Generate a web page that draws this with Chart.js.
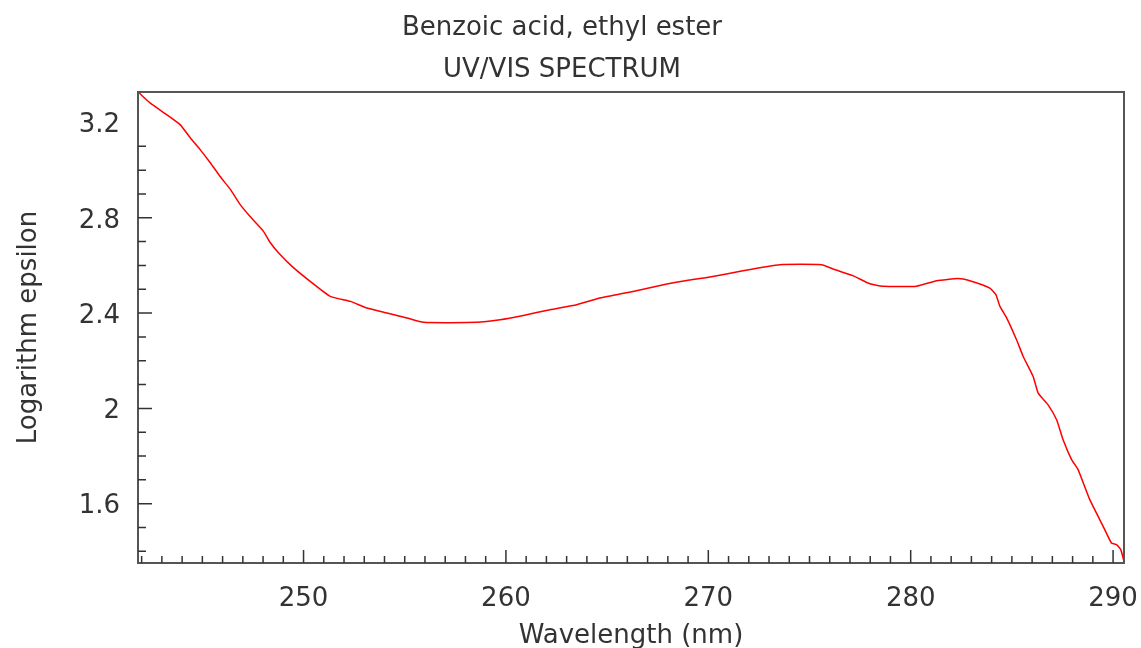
<!DOCTYPE html>
<html>
<head>
<meta charset="utf-8">
<script src="https://cdn.jsdelivr.net/npm/chart.js@4"></script>
<style>
  html, body { margin: 0; padding: 0; background: #fff; }
</style>
</head>
<body>
<canvas id="spectrumChart" width="1141" height="648"></canvas>
<script>
// spectrum values
const wavelengths = [241.84, 242.43, 243.25, 243.91, 244.40, 244.90, 245.39, 245.89, 246.39, 246.87,
  247.37, 248.02, 248.36, 248.77, 249.43, 250.33, 251.32, 252.31, 253.13, 254.12,
  255.11, 255.93, 258.56, 259.71, 260.86, 262.18, 263.50, 264.65, 266.28, 267.95,
  268.93, 270.08, 271.71, 273.54, 275.60, 276.16, 277.15, 277.98, 278.63, 280.29,
  281.28, 282.35, 282.92, 283.91, 284.21, 284.41, 284.74, 285.23, 285.56, 286.05,
  286.30, 286.79, 287.21, 287.53, 287.95, 288.27, 288.85, 289.51, 289.92, 290.17, 290.38, 290.54];
const logEpsilon = [3.327, 3.281, 3.232, 3.190, 3.136, 3.085, 3.031, 2.972, 2.918, 2.855,
  2.804, 2.743, 2.695, 2.652, 2.596, 2.533, 2.470, 2.449, 2.421, 2.400,
  2.379, 2.361, 2.361, 2.372, 2.390, 2.414, 2.435, 2.463, 2.491, 2.522,
  2.537, 2.551, 2.578, 2.603, 2.603, 2.585, 2.557, 2.523, 2.513, 2.513,
  2.536, 2.545, 2.536, 2.505, 2.477, 2.428, 2.380, 2.288, 2.218, 2.134,
  2.064, 2.015, 1.952, 1.868, 1.785, 1.743, 1.617, 1.505, 1.435, 1.428, 1.407, 1.358];
const xTickValues = [250, 260, 270, 280, 290];
const yTickValues = [1.6, 2, 2.4, 2.8, 3.2];
const titleLines = ["Benzoic acid, ethyl ester", "UV/VIS SPECTRUM"];

const fontFamily = "'DejaVu Sans', sans-serif";
const textColor = "#333";

// box round the plot + inward major/minor ticks
const frameTicks = {
  id: "frameTicks",
  afterDatasetsDraw(chart) {
    const { ctx, chartArea: a, scales: { x, y } } = chart;
    ctx.save();
    ctx.strokeStyle = "#555";
    ctx.lineWidth = 2;
    ctx.strokeRect(a.left, a.top, a.right - a.left, a.bottom - a.top);
    ctx.strokeStyle = "#333";
    ctx.lineWidth = 1.5;
    ctx.beginPath();
    for (let v = 242; v <= 290; v++) {
      const px = x.getPixelForValue(v);
      const len = v % 10 === 0 ? 13 : 7;
      ctx.moveTo(px, a.bottom);
      ctx.lineTo(px, a.bottom - len);
    }
    for (let i = 14; i <= 31; i++) {
      const py = y.getPixelForValue(i / 10);
      const len = i % 4 === 0 ? 14 : 8;
      ctx.moveTo(a.left, py);
      ctx.lineTo(a.left + len, py);
    }
    ctx.stroke();
    ctx.restore();
  },
};

const spectrumChart = document.getElementById("spectrumChart");
new Chart(spectrumChart, {
  type: "scatter",
  data: {
    datasets: [
      {
        data: wavelengths.map((w, i) => ({ x: w, y: logEpsilon[i] })),
        showLine: true,
        borderColor: "#ff0000",
        borderWidth: 1.5,
        pointRadius: 0,
        tension: 0.15,
      },
    ],
  },
  options: {
    responsive: false,
    animation: false,
    layout: { padding: { left: 0, right: 17, top: 0, bottom: 0 } },
    plugins: {
      legend: { display: false },
      tooltip: { enabled: false },
      title: {
        display: true,
        text: titleLines,
        color: textColor,
        font: { family: fontFamily, size: 26, weight: "normal", lineHeight: 1.615 },
        padding: { top: 7, bottom: 1 },
      },
    },
    scales: {
      x: {
        type: "linear",
        min: 241.82,
        max: 290.54,
        afterBuildTicks: (s) => { s.ticks = xTickValues.map((v) => ({ value: v })); },
        afterFit: (s) => {
          s.height = 85;
          s.paddingLeft = 0;
          s.paddingRight = 0;
        },
        grid: { display: false, drawTicks: false },
        border: { display: false },
        ticks: {
          color: textColor,
          font: { family: fontFamily, size: 26 },
          padding: 21,
          maxRotation: 0,
          autoSkip: false,
        },
        title: {
          display: true,
          text: "Wavelength (nm)",
          color: textColor,
          font: { family: fontFamily, size: 26 },
          padding: { top: 0, bottom: -4 },
        },
      },
      y: {
        min: 1.351,
        max: 3.328,
        afterBuildTicks: (s) => { s.ticks = yTickValues.map((v) => ({ value: v })); },
        afterFit: (s) => {
          s.width = 138;
          s.paddingTop = 0;
          s.paddingBottom = 0;
        },
        grid: { display: false, drawTicks: false },
        border: { display: false },
        ticks: {
          color: textColor,
          font: { family: fontFamily, size: 26 },
          padding: 18,
          labelOffset: 3,
          autoSkip: false,
          callback: (v) => String(+v.toFixed(1)),
        },
        title: {
          display: true,
          text: "Logarithm epsilon",
          color: textColor,
          font: { family: fontFamily, size: 26 },
          padding: { top: 14, bottom: 0 },
        },
      },
    },
  },
  plugins: [frameTicks],
});
</script>
</body>
</html>
